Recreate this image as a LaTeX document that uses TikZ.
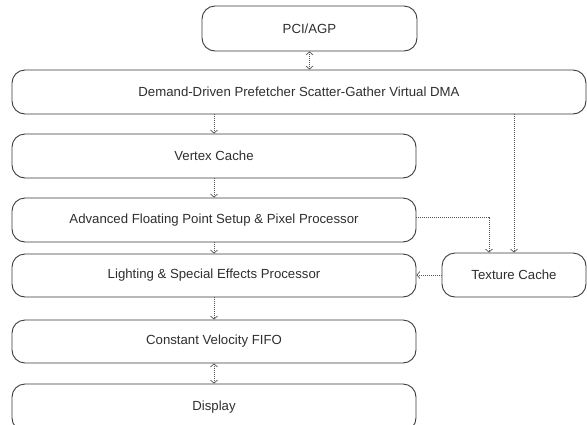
\documentclass[tikz,border=0pt]{standalone}
\usepackage{fontspec}
\setmainfont{Liberation Sans}
\usetikzlibrary{arrows.meta}
\definecolor{boxline}{HTML}{3A3A3A}
\definecolor{txt}{HTML}{2E2E2E}
\definecolor{conncol}{HTML}{555555}
\begin{document}
\begin{tikzpicture}[x=1pt,y=-1pt,
  blk/.style={draw=boxline, line width=0.9pt, rounded corners=13pt, rectangle,
    inner sep=0pt, text=txt, font=\fontsize{13.2}{16}\selectfont},
  conn/.style={draw=conncol, line width=0.8pt, dash pattern=on 1pt off 1pt,
    -{Straight Barb[length=3pt,width=7pt,line width=0.7pt]}},
  dconn/.style={conn, {Straight Barb[length=3pt,width=7pt,line width=0.7pt]}-{Straight Barb[length=3pt,width=7pt,line width=0.7pt]}}
]
\useasboundingbox (0,0) rectangle (587,424);
\clip (0,0) rectangle (587,424);
\node[blk, minimum width=215pt, minimum height=45pt] (pci) at (309.5,28.5) {PCI/AGP};
\node[blk, minimum width=574pt, minimum height=44pt] (dma) at (299,92) {Demand-Driven Prefetcher Scatter-Gather Virtual DMA};
\node[blk, minimum width=404pt, minimum height=44pt] (vtx) at (214,156) {Vertex Cache};
\node[blk, minimum width=404pt, minimum height=44pt] (adv) at (214,220) {Advanced Floating Point Setup \& Pixel Processor};
\node[blk, minimum width=404pt, minimum height=43pt] (lit) at (214,275.5) {Lighting \& Special Effects Processor};
\node[blk, minimum width=144pt, minimum height=44pt] (tex) at (514,275) {Texture Cache};
\node[blk, minimum width=404pt, minimum height=43pt] (fifo) at (214,341.5) {Constant Velocity FIFO};
\node[blk, minimum width=404pt, minimum height=47pt] (disp) at (214,407.5) {Display};

\draw[dconn] (pci.south) -- (pci.south |- dma.north);
\draw[conn] (vtx.north |- dma.south) -- (vtx.north);
\draw[conn] (vtx.south) -- (adv.north);
\draw[conn] (adv.south) -- (lit.north);
\draw[conn] (lit.south) -- (fifo.north);
\draw[dconn] (fifo.south) -- (disp.north);
\draw[conn] (tex.north |- dma.south) -- (tex.north);
\coordinate (texin) at ([xshift=-25pt]tex.north);
\draw[conn] ([yshift=3pt]adv.east) -| (texin);
\draw[conn] (tex.west) -- (tex.west -| lit.east);
\end{tikzpicture}
\end{document}
